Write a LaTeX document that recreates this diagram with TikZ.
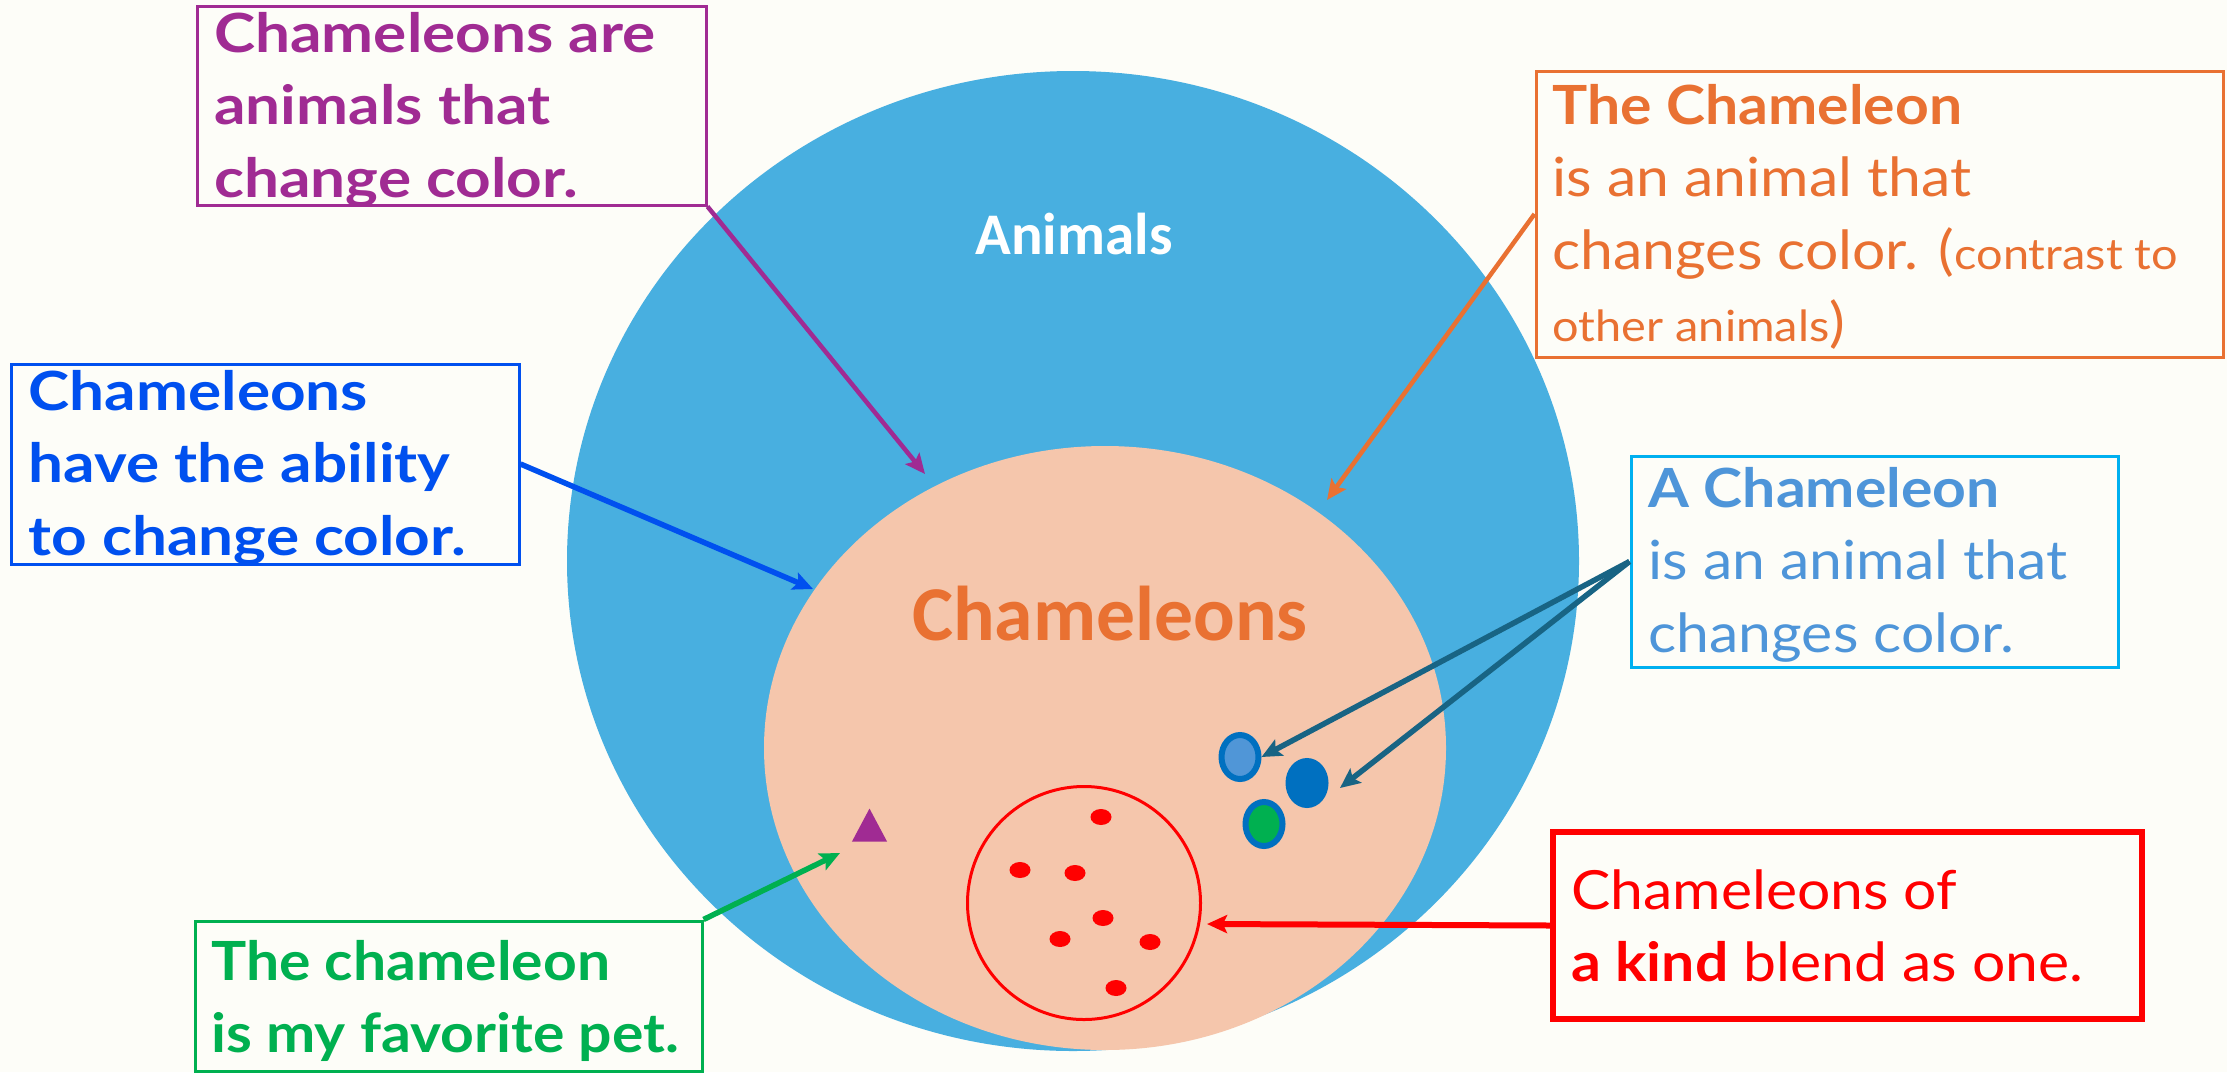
\documentclass[tikz,border=0pt]{standalone}
\usepackage{fontspec}
\setmainfont{Lato}[FakeStretch=1.09]
\newfontfamily\widefont{Lato}[FakeStretch=1.15]
\newfontfamily\calfont{Carlito}
\usetikzlibrary{arrows.meta,shapes.geometric}
\definecolor{bgc}{RGB}{253,253,248}
\definecolor{animblue}{RGB}{72,175,224}
\definecolor{peach}{RGB}{245,198,172}
\definecolor{orng}{RGB}{233,113,50}
\definecolor{purp}{RGB}{160,43,147}
\definecolor{bblue}{RGB}{0,80,239}
\definecolor{lblue}{RGB}{0,176,240}
\definecolor{ltext}{RGB}{78,149,217}
\definecolor{grn}{RGB}{0,176,80}
\definecolor{teal}{RGB}{24,100,132}
\definecolor{dblue}{RGB}{0,112,192}
\definecolor{dotlight}{RGB}{80,150,215}
\newcommand\boxlines[1]{\begin{tabular}[t]{@{}l@{}}#1\end{tabular}}
\newcommand\smallpart{\fontsize{43}{72.5}\selectfont}
\tikzset{
  txt/.style={inner sep=0pt, anchor=base west, font=\fontsize{54}{72.5}\selectfont},
  frame/.style={draw, inner sep=0pt, line width=3pt},
  conn/.style={line width=5.5pt, -{Stealth[length=20pt,width=18pt,inset=4pt]}},
  reddot/.style={ellipse, fill=red, inner sep=0pt, minimum width=21pt, minimum height=16pt},
  bigdot/.style={ellipse, inner sep=0pt, line width=6pt, draw=dblue, minimum width=37pt, minimum height=44pt}
}
\begin{document}
\begin{tikzpicture}[x=1pt,y=-1pt]
\useasboundingbox (0,0) rectangle (2227,1072);
\fill[bgc] (0,0) rectangle (2227,1072);

% sets
\fill[animblue] (1073,561) ellipse [x radius=506pt, y radius=490pt];
\fill[peach] (1105,748) ellipse [x radius=341pt, y radius=302pt];
\node[inner sep=0pt, anchor=base, text=white, font=\calfont\bfseries\fontsize{59}{70}\selectfont] (animals) at (1074,254) {Animals};
\node[inner sep=0pt, anchor=base, text=orng, font=\calfont\bfseries\fontsize{77.6}{90}\selectfont] (chamlabel) at (1110,640) {Chameleons};

% kind circle and dots
\node[circle, draw=red, line width=3pt, inner sep=0pt, minimum size=233pt] (kind) at (1084,903) {};
\node[reddot] (r1) at (1101,817) {};
\node[reddot] (r2) at (1020,870) {};
\node[reddot] (r3) at (1075,873) {};
\node[reddot] (r4) at (1103,918) {};
\node[reddot] (r5) at (1060,939) {};
\node[reddot] (r6) at (1150,942) {};
\node[reddot] (r7) at (1116,988) {};

% individuals
\node[bigdot, fill=dotlight] (d1) at (1240,757) {};
\node[bigdot, fill=dblue] (d2) at (1307,783) {};
\node[bigdot, fill=grn] (d3) at (1264,824) {};
\node[isosceles triangle, isosceles triangle apex angle=56, shape border rotate=90, fill=purp, inner sep=0pt, minimum height=33pt, minimum width=35pt] (pet) at (869.5,831) {};

% boxes
\node[frame, draw=purp, minimum width=509pt, minimum height=199pt] (pbox) at (451.5,105.5) {};
\node[txt, text=purp, font=\widefont\fontsize{54}{72.5}\selectfont\bfseries] (ptext) at (214,52) {\boxlines{Chameleons are\\animals that\\change color.}};

\node[frame, draw=bblue, minimum width=508pt, minimum height=200pt] (bbox) at (265,464) {};
\node[txt, text=bblue, font=\widefont\fontsize{54}{72.5}\selectfont\bfseries] (btext) at (28.5,410) {\boxlines{Chameleons\\have the ability\\to change color.}};

\node[frame, draw=orng, minimum width=687pt, minimum height=286pt] (obox) at (1879.5,214) {};
\node[txt, text=orng] (otext) at (1552.5,124) {\boxlines{\textbf{The Chameleon}\\is an animal that\\changes color. ({\smallpart contrast to}\\{\smallpart other animals})}};

\node[frame, draw=lblue, minimum width=487pt, minimum height=211pt] (lbbox) at (1874.5,561.5) {};
\node[txt, text=ltext] (lbtext) at (1648.5,507) {\boxlines{\textbf{A Chameleon}\\is an animal that\\changes color.}};

\node[frame, draw=grn, minimum width=507pt, minimum height=150pt] (gbox) at (448.5,996) {};
\node[txt, text=grn, font=\fontsize{54}{72.5}\selectfont\bfseries] (gtext) at (211,980) {\boxlines{The chameleon\\is my favorite pet.}};

\node[frame, draw=red, line width=6pt, minimum width=589pt, minimum height=187pt] (rbox) at (1847.5,925.5) {};
\node[txt, text=red] (rtext) at (1571,909) {\boxlines{Chameleons of\\\textbf{a kind} blend as one.}};

% arrow targets
\coordinate (ptip) at (925,474);
\coordinate (btip) at (813,589);
\coordinate (otip) at (1327,500);
\coordinate (gtip) at (840,853);
\coordinate (rtip) at (1207,924);
\coordinate (ttip) at (1340,788);

% connectors
\draw[conn, purp, line width=4.5pt] (pbox.south east) -- (ptip);
\draw[conn, bblue] (bbox.east) -- (btip);
\draw[conn, orng, line width=4.5pt] (obox.west) -- (otip);
\draw[conn, teal] (lbbox.west) -- (d1.east);
\draw[conn, teal] (lbbox.west) -- (ttip);
\draw[conn, grn] (gbox.north east) -- (gtip);
\draw[conn, red, line width=6pt] (rbox.west) -- (rtip);
\end{tikzpicture}
\end{document}
